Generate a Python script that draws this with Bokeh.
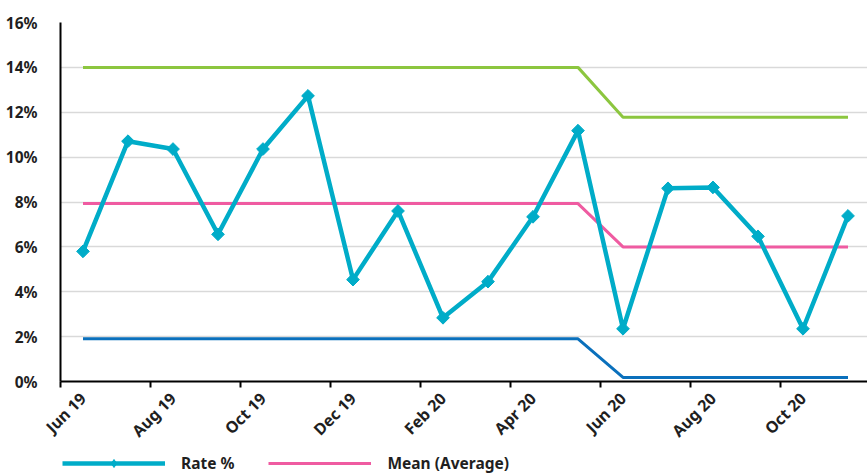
import math
from bokeh.plotting import figure
from bokeh.layouts import column
from bokeh.models import FixedTicker, Range1d, Legend, LegendItem, ColumnDataSource
from bokeh.embed import file_html
from bokeh.resources import INLINE

months = ["Jun 19", "Jul 19", "Aug 19", "Sep 19", "Oct 19", "Nov 19",
          "Dec 19", "Jan 20", "Feb 20", "Mar 20", "Apr 20", "May 20",
          "Jun 20", "Jul 20", "Aug 20", "Sep 20", "Oct 20", "Nov 20"]
rate = [5.80, 10.71, 10.36, 6.56, 10.36, 12.73, 4.54, 7.60, 2.84, 4.45, 7.34, 11.18,
        2.35, 8.61, 8.65, 6.47, 2.35, 7.38]
mean = [7.93, 7.93, 7.93, 7.93, 7.93, 7.93, 7.93, 7.93, 7.93, 7.93, 7.93, 7.93,
        6.00, 6.00, 6.00, 6.00, 6.00, 6.00]
ucl = [14.0, 14.0, 14.0, 14.0, 14.0, 14.0, 14.0, 14.0, 14.0, 14.0, 14.0, 14.0,
       11.78, 11.78, 11.78, 11.78, 11.78, 11.78]
lcl = [1.90, 1.90, 1.90, 1.90, 1.90, 1.90, 1.90, 1.90, 1.90, 1.90, 1.90, 1.90,
       0.18, 0.18, 0.18, 0.18, 0.18, 0.18]
y_ticks = [0, 2, 4, 6, 8, 10, 12, 14, 16]

idx = list(range(len(months)))
src = ColumnDataSource(dict(x=idx, rate=rate, mean=mean, ucl=ucl, lcl=lcl))

FONT = "Noto Sans"
TXT = "#1f1f1f"
C_RATE, C_MEAN, C_UCL, C_LCL = "#00acc8", "#ef5ba1", "#8cc63f", "#0a70bc"

p = figure(width=867, height=453, output_backend="svg", toolbar_location=None,
           x_range=Range1d(-0.5, -0.5 + 807 / 45.0), y_range=Range1d(0, 16),
           frame_width=807, frame_height=359,
           min_border_left=60, min_border_right=0, min_border_top=22, min_border_bottom=72)
p.outline_line_color = None
p.background_fill_color = "white"
p.border_fill_color = "white"

# grid
p.xgrid.grid_line_color = None
p.ygrid.ticker = FixedTicker(ticks=y_ticks)
p.ygrid.grid_line_color = "#d9d9d9"
p.ygrid.grid_line_width = 1.5

# y axis
p.yaxis.ticker = FixedTicker(ticks=y_ticks)
p.yaxis.major_label_overrides = {v: f"{v}%" for v in y_ticks}
p.yaxis.axis_line_color = "black"
p.yaxis.axis_line_width = 2
p.yaxis.major_tick_line_color = None
p.yaxis.minor_tick_line_color = None
p.yaxis.major_label_standoff = 17
p.yaxis.major_label_text_font = FONT
p.yaxis.major_label_text_font_style = "bold"
p.yaxis.major_label_text_font_size = "15.5px"
p.yaxis.major_label_text_color = TXT

# x axis: labels at every other category centre, ticks at category boundaries
label_pos = list(range(0, len(months), 2))
boundary = [i - 0.5 for i in range(0, len(months), 2)]
p.xaxis.ticker = FixedTicker(ticks=label_pos, minor_ticks=boundary)
p.xaxis.major_label_overrides = {i: months[i] for i in label_pos}
p.xaxis.major_label_orientation = math.pi / 4
p.xaxis.axis_line_color = "black"
p.xaxis.axis_line_width = 2
p.xaxis.major_tick_line_color = None
p.xaxis.minor_tick_line_color = "black"
p.xaxis.minor_tick_line_width = 2
p.xaxis.minor_tick_in = 0
p.xaxis.minor_tick_out = 6
p.xaxis.major_label_standoff = 8
p.xaxis.major_label_text_font = FONT
p.xaxis.major_label_text_font_style = "bold"
p.xaxis.major_label_text_font_size = "16px"
p.xaxis.major_label_text_color = TXT

# series
p.line("x", "ucl", source=src, line_color=C_UCL, line_width=3)
p.line("x", "lcl", source=src, line_color=C_LCL, line_width=3)
p.line("x", "mean", source=src, line_color=C_MEAN, line_width=3)
p.line("x", "rate", source=src, line_color=C_RATE, line_width=4.5)
p.scatter("x", "rate", source=src, marker="square", angle=math.pi / 4, size=9,
          fill_color=C_RATE, line_color=C_RATE)

# legend strip below the chart (its renderers lie outside its visible range)
lg = figure(width=867, height=21, output_backend="svg", toolbar_location=None,
            x_range=Range1d(1000, 1001), y_range=Range1d(1000, 1001),
            x_axis_location=None, y_axis_location=None,
            min_border_left=0, min_border_right=0, min_border_top=0, min_border_bottom=0)
lg.grid.visible = False
lg.outline_line_color = None
l_rate = lg.line("x", "rate", source=src, line_color=C_RATE, line_width=4.5)
l_pts = lg.scatter("x", "rate", source=src, marker="diamond", size=14,
                   fill_color=C_RATE, line_color=C_RATE)
l_mean = lg.line("x", "mean", source=src, line_color=C_MEAN, line_width=3)
legend = Legend(items=[LegendItem(label="Rate %", renderers=[l_rate, l_pts]),
                       LegendItem(label="Mean (Average)", renderers=[l_mean])],
                orientation="horizontal", location=(2, 0),
                glyph_width=103, glyph_height=20, label_height=20, label_standoff=16, spacing=34,
                padding=0, margin=0, border_line_color=None, background_fill_alpha=0,
                label_text_font=FONT, label_text_font_style="bold",
                label_text_font_size="15.5px", label_text_color=TXT)
lg.add_layout(legend, "center")

open("out.html", "w").write(file_html(column(p, lg, spacing=0), INLINE))
